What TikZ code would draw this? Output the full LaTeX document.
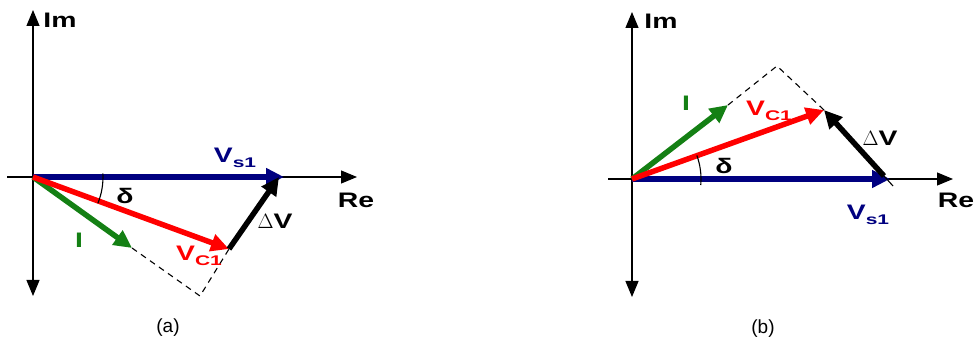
\documentclass[tikz,border=0pt]{standalone}
\usepackage{fontspec}
\setmainfont{Liberation Sans}
\newfontfamily\labfont[FakeStretch=1.35]{Liberation Sans}
\newfontfamily\subfont[FakeStretch=1.5]{Liberation Sans}
\usetikzlibrary{arrows.meta}
\definecolor{vsblue}{RGB}{0,0,128}
\definecolor{igreen}{RGB}{20,128,20}
\definecolor{vcred}{RGB}{255,0,0}
\newcommand{\phsub}[1]{\raisebox{-5pt}{\subfont\fontsize{14}{14}\selectfont\bfseries #1}}

\begin{document}
\begin{tikzpicture}[x=1pt, y=-1pt,
    axis/.style={line width=1.2pt, -{Triangle[length=16pt, width=13pt]}},
    axis both/.style={line width=1.2pt,
      {Triangle[length=16pt, width=13pt]}-{Triangle[length=16pt, width=13pt]}},
    phasor/.style={line width=5.5pt, -{Triangle[length=18pt, width=17pt]}},
    proj/.style={line width=1.1pt, dash pattern=on 6pt off 5pt},
    lab/.style={font=\labfont\fontsize{21}{23}\selectfont\bfseries, inner sep=0pt},
    caption/.style={font=\fontsize{19}{21}\selectfont, inner sep=0pt}]

  \useasboundingbox (0,0) rectangle (978,347);

  % === (a): V_C1 lags V_s1 ===
  \coordinate (Oa) at (33,177);
  \coordinate (ImTopA) at (33,10);
  \coordinate (ImBotA) at (33,296);
  \coordinate (ReLeftA) at (7,177);
  \coordinate (ReRightA) at (357,177);
  \coordinate (VsA) at (284,177);
  \coordinate (VcA) at (229,249);
  \coordinate (IA) at (132,248);
  \coordinate (FootA) at (200,296);
  \coordinate (DvTipA) at (279,177);

  % axes
  \draw[axis both] (ImBotA) -- (ImTopA);
  \draw[axis] (ReLeftA) -- (ReRightA);

  % phasors
  \draw[phasor, vsblue] (Oa) -- (VsA);
  \draw[phasor, igreen] (Oa) -- (IA);
  \draw[phasor, vcred] (Oa) -- (VcA);
  \draw[proj] (IA) -- (FootA) -- (VcA);
  \draw[phasor, black] (VcA) -- (DvTipA);

  % angle delta
  \draw[line width=1.1pt] (Oa) ++(-3:70) arc (-3:22:70);

  % labels
  \node[lab] (ImLabA) at (60,20) {Im};
  \node[lab] (ReLabA) at (356,200) {Re};
  \node[lab, vsblue] (VsLabA) at (235,158) {V\phsub{s1}};
  \node[lab, vcred] (VcLabA) at (199,256) {V\phsub{C1}};
  \node[lab, igreen] (ILabA) at (79,240) {I};
  \node[lab] (DvLabA) at (275,221) {{\mdseries$\Delta$}V};
  \node[lab] (DeltaLabA) at (125,196) {δ};
  \node[caption] (CapA) at (168,328) {(a)};

  % === (b): V_C1 leads V_s1 ===
  \coordinate (Ob) at (632,179);
  \coordinate (ImTopB) at (632,12);
  \coordinate (ImBotB) at (632,297);
  \coordinate (ReLeftB) at (608,179);
  \coordinate (ReRightB) at (953,179);
  \coordinate (VsB) at (890,179);
  \coordinate (VcB) at (824,110);
  \coordinate (IB) at (728,105);
  \coordinate (FootB) at (777,66);
  \coordinate (DvTailB) at (884,176);
  \coordinate (ExtB) at (893,186);

  % axes
  \draw[axis both] (ImBotB) -- (ImTopB);
  \draw[axis] (ReLeftB) -- (ReRightB);

  % phasors
  \draw[phasor, vsblue] (Ob) -- (VsB);
  \draw[phasor, igreen] (Ob) -- (IB);
  \draw[phasor, vcred] (Ob) -- (VcB);
  \draw[proj] (IB) -- (FootB) -- (VcB);
  \draw[line width=1.1pt] (DvTailB) -- (ExtB);
  \draw[phasor, black] (DvTailB) -- (VcB);

  % angle delta
  \draw[line width=1.1pt] (Ob) ++(5:69) arc (5:-20:69);

  % labels
  \node[lab] (ImLabB) at (661,21) {Im};
  \node[lab] (ReLabB) at (956,200) {Re};
  \node[lab, vsblue] (VsLabB) at (868,215) {V\phsub{s1}};
  \node[lab, vcred] (VcLabB) at (769,111) {V\phsub{C1}};
  \node[lab, igreen] (ILabB) at (686,103) {I};
  \node[lab] (DvLabB) at (880,138) {{\mdseries$\Delta$}V};
  \node[lab] (DeltaLabB) at (724,166) {δ};
  \node[caption] (CapB) at (763,329) {(b)};

\end{tikzpicture}
\end{document}
